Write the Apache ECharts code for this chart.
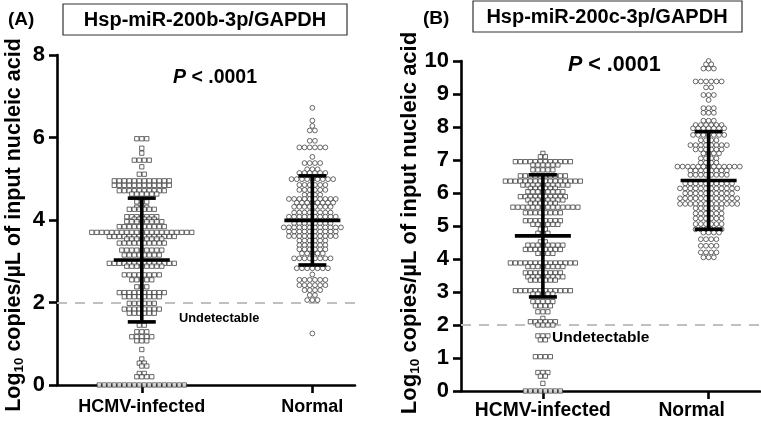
<!DOCTYPE html>
<html><head><meta charset="utf-8">
<script src="https://cdn.jsdelivr.net/npm/echarts@6/dist/echarts.min.js"></script>
<style>html,body{margin:0;padding:0;background:#fff}#c{width:761px;height:421px}</style>
</head><body><div id="c"></div>
<script>
// ---------------- data ----------------
const categories = ['HCMV-infected', 'Normal'];
const panelLetters = ['(A)', '(B)'];
const panelTitles = ['Hsp-miR-200b-3p/GAPDH', 'Hsp-miR-200c-3p/GAPDH'];
const pValueText = '.0001';
const undetectableLevel = 2;
const undetectableText = 'Undetectable';
const yMaxA = 8, yStepA = 2;
const yMaxB = 10, yStepB = 1;

// rows of points: [log10 copies, number of points at that level]
const A_hcmv = [[5.97,3],[5.74,1],[5.62,1],[5.45,4],[5.29,1],[5.11,2],[4.95,12],[4.84,12],[4.71,10],[4.63,6],
  [4.44,3],[4.31,3],[4.26,6],[4.08,7],[4.02,5],[3.96,8],[3.84,10],[3.70,21],[3.60,14],[3.54,8],[3.44,10],
  [3.27,9],[3.15,8],[2.95,14],[2.88,8],[2.67,8],[2.55,5],[2.38,3],[2.24,10],[2.14,8],[1.98,6],[1.84,8],
  [1.74,6],[1.45,2],[1.29,3],[1.17,5],[1.07,3],[0.86,1],[0.63,1],[0.53,2],[0.46,2],[0.28,2],[0.2,4],[0,18]];
const A_normal = [[6.72,1],[6.41,1],[6.28,1],[6.17,2],[5.92,2],[5.76,6],[5.53,1],[5.38,4],[5.23,3],[5.14,6],
  [4.99,9],[4.85,6],[4.73,6],[4.61,4],[4.51,10],[4.42,8],[4.32,8],[4.18,8],[4.08,10],[3.92,8],[3.82,12],
  [3.72,10],[3.61,10],[3.5,6],[3.39,6],[3.29,6],[3.19,5],[3.07,8],[2.83,7],[2.68,1],[2.55,6],[2.42,6],
  [2.3,4],[2.18,2],[2.06,3],[1.25,1]];
const B_hcmv = [[7.2,1],[7.1,2],[6.95,12],[6.85,6],[6.7,5],[6.52,10],[6.36,16],[6.24,10],[6.14,6],[6.04,8],
  [5.89,10],[5.79,8],[5.69,6],[5.57,14],[5.4,8],[5.16,8],[5.05,6],[4.9,2],[4.78,3],[4.52,2],[4.42,8],
  [4.29,8],[4.17,4],[3.88,14],[3.77,8],[3.58,8],[3.46,8],[3.36,6],[3.04,12],[2.94,5],[2.71,5],[2.58,4],
  [2.4,3],[2.2,1],[2.1,6],[2.0,4],[1.67,3],[1.55,2],[1.04,4],[0.56,3],[0.45,2],[0.23,1],[0,8]];
const B_normal = [[10.0,1],[9.9,2],[9.77,3],[9.38,6],[9.2,2],[8.97,3],[8.82,1],[8.57,3],[8.43,3],[8.19,3],
  [8.06,6],[7.96,7],[7.76,7],[7.6,4],[7.45,8],[7.32,6],[7.2,4],[7.05,4],[6.92,4],[6.8,13],[6.68,8],[6.55,8],
  [6.29,10],[6.14,12],[5.99,10],[5.84,12],[5.67,12],[5.54,6],[5.38,6],[5.23,6],[5.06,6],[4.9,6],[4.8,4],
  [4.6,4],[4.4,4],[4.2,4],[4.05,3]];

// mean and SD per group
const meanA = [3.03, 3.99];
const sdA   = [1.50, 1.08];
const meanB = [4.70, 6.38];
const sdB   = [1.85, 1.48];

// ---------------- chart ----------------
const FONT = '"Liberation Sans", Arial, sans-serif';
const chart = echarts.init(document.getElementById('c'), null, {renderer: 'canvas'});

function xAxisCfg(gi, min, max, fs, margin, shiftNormal) {
  const lab = {fontFamily: FONT, fontWeight: 'bold', fontSize: fs, color: '#000'};
  return {
    gridIndex: gi, type: 'value', min: min, max: max,
    axisLine: {show: true, onZero: false, lineStyle: {color: '#000', width: 2.6}},
    axisTick: {show: true, customValues: [1, 2], length: 8, lineStyle: {color: '#000', width: 2.6}},
    axisLabel: {show: true, customValues: [1, 2], margin: margin, color: '#000', fontFamily: FONT,
      fontWeight: 'bold', fontSize: fs,
      formatter: v => { const i = Math.round(v) - 1; return i === 1 ? '{n|' + categories[1] + '}' : '{c|' + (categories[i] || '') + '}'; },
      rich: {c: lab, n: Object.assign({padding: [0, shiftNormal, 0, 0]}, lab)}},
    splitLine: {show: false}
  };
}
function yAxisCfg(gi, max, step) {
  return {
    gridIndex: gi, type: 'value', min: 0, max: max, interval: step,
    axisLine: {show: true, lineStyle: {color: '#000', width: 2.6}},
    axisTick: {show: true, length: 8, lineStyle: {color: '#000', width: 2.6}},
    axisLabel: {color: '#000', fontFamily: FONT, fontWeight: 'bold', fontSize: 22, margin: 12},
    splitLine: {show: false}
  };
}

function meanSdSeries(gi, means, sds, halfMean, halfCap) {
  return {
    type: 'custom', xAxisIndex: gi, yAxisIndex: gi, z: 10, clip: false,
    data: means.map((m, i) => [i + 1, m, sds[i]]),
    encode: {x: 0, y: 1},
    renderItem: function (params, api) {
      const x = api.value(0), m = api.value(1), s = api.value(2);
      const pm = api.coord([x, m]), pu = api.coord([x, m + s]), pl = api.coord([x, m - s]);
      const st = {stroke: '#000', lineWidth: 3.6};
      return {type: 'group', children: [
        {type: 'line', shape: {x1: pu[0], y1: pu[1], x2: pl[0], y2: pl[1]}, style: st},
        {type: 'line', shape: {x1: pm[0] - halfMean, y1: pm[1], x2: pm[0] + halfMean, y2: pm[1]}, style: st},
        {type: 'line', shape: {x1: pu[0] - halfCap, y1: pu[1], x2: pu[0] + halfCap, y2: pu[1]}, style: st},
        {type: 'line', shape: {x1: pl[0] - halfCap, y1: pl[1], x2: pl[0] + halfCap, y2: pl[1]}, style: st}
      ]};
    },
    markLine: {
      silent: true, symbol: 'none', label: {show: false},
      lineStyle: {color: '#c0c0c0', width: 2.2, type: [10, 8]},
      data: [{yAxis: undetectableLevel}]
    }
  };
}

function scatterSeries(gi, symbol, size) {
  return {
    type: 'scatter', xAxisIndex: gi, yAxisIndex: gi, symbol: symbol, symbolSize: size, clip: false, z: 5,
    itemStyle: {color: '#fff', borderColor: '#303030', borderWidth: 0.9},
    data: []
  };
}

function titleGraphics() {
  const t = (x, y, text, fs, align) => ({type: 'text', x: x, y: y, style: {text: text, fontFamily: FONT,
    fontWeight: 'bold', fontSize: fs, fill: '#000', align: align || 'left', verticalAlign: 'middle'}});
  const box = (x, y, w, h) => ({type: 'rect', shape: {x: x, y: y, width: w, height: h},
    style: {fill: '#fff', stroke: '#333', lineWidth: 1.2}});
  const pTxt = (x, y, fs) => ({type: 'text', x: x, y: y, style: {
    text: '{i|P}{b| < ' + pValueText + '}', verticalAlign: 'middle',
    rich: {i: {fontFamily: FONT, fontWeight: 'bold', fontStyle: 'italic', fontSize: fs, fill: '#000'},
           b: {fontFamily: FONT, fontWeight: 'bold', fontSize: fs, fill: '#000'}}}});
  const yName = (x, y, fs) => ({type: 'text', x: x, y: y, rotation: Math.PI / 2, style: {
    text: '{a|Log}{s|10}{a| copies/µL of input nucleic acid}', align: 'center', verticalAlign: 'middle',
    rich: {a: {fontFamily: FONT, fontWeight: 'bold', fontSize: fs, fill: '#000', lineHeight: fs * 1.1},
           s: {fontFamily: FONT, fontWeight: 'bold', fontSize: fs * 0.62, fill: '#000', lineHeight: fs * 1.1,
               verticalAlign: 'bottom', padding: [fs * 0.5, 0, 0, 0]}}}});
  return [
    t(8, 20, panelLetters[0], 19),
    box(63, 4, 284, 31), t(205, 20, panelTitles[0], 20, 'center'),
    t(423, 19, panelLetters[1], 19),
    box(473, 1, 269, 31), t(607, 17, panelTitles[1], 20, 'center'),
    pTxt(173, 78, 19.5), pTxt(568, 65, 21.5),
    t(179, 318, undetectableText, 12.8), t(552, 338, undetectableText, 15.5),
    yName(14, 225, 21.5), yName(410, 223, 22)
  ];
}

const option = {
  backgroundColor: '#fff',
  animation: false,
  grid: [
    {left: 57, top: 55, width: 298, height: 330},
    {left: 461, top: 61, width: 299, height: 330}
  ],
  xAxis: [xAxisCfg(0, 0.503, 2.25, 18, 13, 0), xAxisCfg(1, 0.506, 2.31, 19.3, 10, 34)],
  yAxis: [yAxisCfg(0, yMaxA, yStepA), yAxisCfg(1, yMaxB, yStepB)],
  series: [
    scatterSeries(0, 'rect', 4.3), scatterSeries(0, 'circle', 4.8),
    scatterSeries(1, 'rect', 4.3), scatterSeries(1, 'circle', 4.8),
    meanSdSeries(0, meanA, sdA, 28, 14), meanSdSeries(1, meanB, sdB, 28, 14)
  ],
  graphic: titleGraphics()
};
chart.setOption(option);

// row layout (Prism style) through the axes' own pixel scales
function rowLayout(rows, cat, gi, s) {
  const finder = {gridIndex: gi};
  const pcx = chart.convertToPixel(finder, [cat, 0])[0];
  const out = [];
  let prevPy = null, prevPhase = 0;
  rows.forEach(([v, n]) => {
    const py = chart.convertToPixel(finder, [cat, v])[1];
    let phase = ((n - 1) / 2) % 1, shift = 0;
    if (prevPy !== null && Math.abs(py - prevPy) < 4 && phase === prevPhase) { shift = s / 2; phase = (phase + 0.5) % 1; }
    for (let i = 0; i < n; i++) {
      const dx = (i - (n - 1) / 2) * s + shift;
      out.push([chart.convertFromPixel(finder, [pcx + dx, py])[0], v]);
    }
    prevPy = py; prevPhase = phase;
  });
  return out;
}

chart.setOption({series: [
  {data: rowLayout(A_hcmv, 1, 0, 5.0)},
  {data: rowLayout(A_normal, 2, 0, 5.2)},
  {data: rowLayout(B_hcmv, 1, 1, 5.0)},
  {data: rowLayout(B_normal, 2, 1, 5.2)}
]});
</script>
</body></html>
